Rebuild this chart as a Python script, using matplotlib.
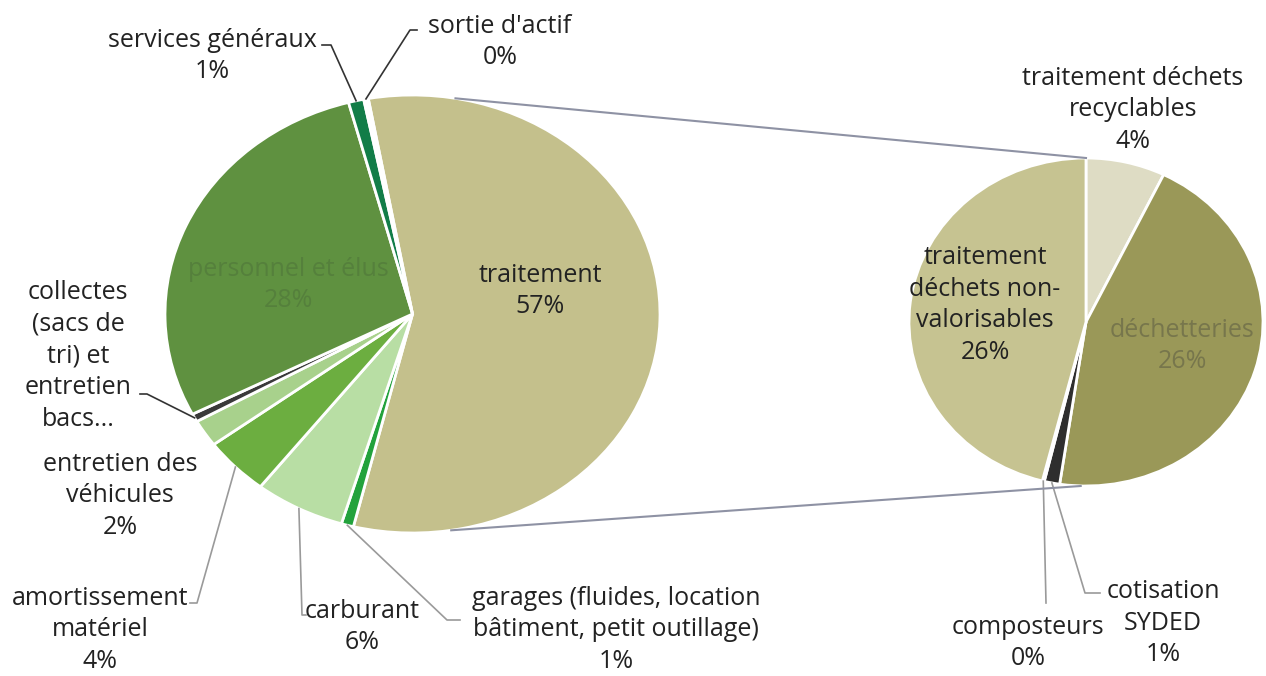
import matplotlib
matplotlib.use("Agg")
import matplotlib.pyplot as plt
import numpy as np

plt.rcParams["font.family"] = ["Open Sans", "DejaVu Sans"]

W, H = 1266, 676

# -------------------------------------------------------------
# Data (percent of total budget), clockwise from the top
# -------------------------------------------------------------
main_labels = ["traitement",
               "garages (fluides, location\nbâtiment, petit outillage)",
               "carburant",
               "amortissement\nmatériel",
               "entretien des\nvéhicules",
               "collectes\n(sacs de\ntri) et\nentretien\nbacs...",
               "personnel et élus",
               "services généraux",
               "sortie d'actif"]
main_values = [56.7, 0.8, 5.9, 4.3, 2.0, 0.6, 28.4, 1.0, 0.3]
main_colors = ["#C4C08C", "#23A23C", "#B8DEA4", "#6CAE40", "#A8D18C",
               "#3A3A3A", "#5F9140", "#127D48", "#FFFFFF"]

# breakdown of "traitement"
sub_labels = ["traitement déchets\nrecyclables",
              "déchetteries",
              "cotisation\nSYDED",
              "composteurs",
              "traitement\ndéchets non-\nvalorisables"]
sub_values = [4.1, 25.6, 0.8, 0.1, 26.1]
sub_colors = ["#DEDCC4", "#9A9858", "#2E2E2E", "#FFFFFF", "#C6C391"]

# -------------------------------------------------------------
# Label layout (pixel coords, origin top-left)
# -------------------------------------------------------------
# (x, y, text colour, leader path or None, leader colour)
main_layout = [
    (540, 291, "#222222", None, None),
    (616, 630, "#222222", [(460, 620), (447, 620)], "#9A9A9A"),
    (362, 627, "#222222", [(306, 615), (302, 615)], "#9A9A9A"),
    (100, 630, "#222222", [(190, 603), (197, 603)], "#9A9A9A"),
    (120, 496, "#222222", None, None),
    (78, 356, "#222222", [(140, 394), (147, 394)], "#333333"),
    (288, 285, "#55803C", None, None),
    (212, 56, "#222222", [(322, 45), (331, 45)], "#333333"),
    (500, 42, "#222222", [(417, 30), (410, 30)], "#333333"),
]
sub_layout = [
    (1133, 110, "#222222", None, None),
    (1182, 346, "#77764C", None, None),
    (1163, 623, "#222222", [(1100, 593), (1085, 593)], "#9A9A9A"),
    (1028, 643, "#222222", [(1046, 603)], "#9A9A9A"),
    (985, 305, "#222222", None, None),
]

fig = plt.figure(figsize=(W / 100, H / 100), dpi=100)


def add_px_axes(left, top, right, bottom):
    return fig.add_axes([left / W, (H - bottom) / H, (right - left) / W, (bottom - top) / H])


ax_main = add_px_axes(165, 95, 660, 533)
ax_sub = add_px_axes(909, 158, 1263, 486)
overlay = fig.add_axes([0, 0, 1, 1], zorder=5)
overlay.set_xlim(0, W)
overlay.set_ylim(H, 0)
overlay.axis("off")
overlay.patch.set_alpha(0)

wp = dict(edgecolor="white", linewidth=2)
main_wedges, _ = ax_main.pie(main_values, colors=main_colors, startangle=100.3,
                             counterclock=False, wedgeprops=wp)
sub_wedges, _ = ax_sub.pie(sub_values, colors=sub_colors, startangle=90,
                           counterclock=False, wedgeprops=wp)
for ax, wedges in ((ax_main, main_wedges), (ax_sub, sub_wedges)):
    ax.set_aspect("auto")
    ax.set_xlim(-1, 1)
    ax.set_ylim(-1, 1)
    for w in wedges:
        w.set_clip_on(False)


def to_overlay(ax, x, y):
    disp = ax.transData.transform((x, y))
    return overlay.transData.inverted().transform(disp)


def wedge_edge(ax, wedge, r=1.0):
    ang = np.deg2rad(0.5 * (wedge.theta1 + wedge.theta2))
    return to_overlay(ax, r * np.cos(ang), r * np.sin(ang))


def draw_labels(ax, wedges, labels, values, layout):
    for w, lab, val, (x, y, tc, path, lc) in zip(wedges, labels, values, layout):
        txt = lab if lab.endswith("...") else f"{lab}\n{val:.0f}%"
        overlay.text(x, y, txt, ha="center", va="center", fontsize=18,
                     color=tc, linespacing=1.35)
        if path is not None:
            ex, ey = wedge_edge(ax, w, 1.0)
            xs = [p[0] for p in path] + [ex]
            ys = [p[1] for p in path] + [ey]
            overlay.plot(xs, ys, color=lc, lw=1.2)


draw_labels(ax_main, main_wedges, main_labels, main_values, main_layout)
draw_labels(ax_sub, sub_wedges, sub_labels, sub_values, sub_layout)

# connector lines between the two pies
for ang, sub_pt in ((80, (0.0, 1.0)), (-81, (-0.03, -1.0))):
    a = np.deg2rad(ang)
    p0 = to_overlay(ax_main, np.cos(a), np.sin(a))
    p1 = to_overlay(ax_sub, *sub_pt)
    overlay.plot([p0[0], p1[0]], [p0[1], p1[1]], color="#8E92A4", lw=1.5)

fig.savefig("out.png", dpi=100, facecolor="white")
